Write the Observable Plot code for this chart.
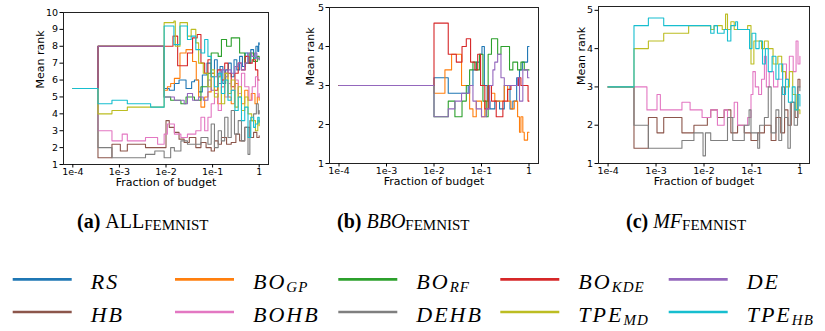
<!DOCTYPE html>
<html><head><meta charset="utf-8">
<script src="https://cdn.jsdelivr.net/npm/d3@7"></script>
<script src="https://cdn.jsdelivr.net/npm/@observablehq/plot@0.6"></script>
<style>
html,body{margin:0;padding:0;background:#fff;}
#root{position:relative;width:825px;height:331px;overflow:hidden;background:#fff;}
#root > svg{position:absolute;top:0;}
.serif text, .serif tspan{font-family:"Liberation Serif","DejaVu Serif","Times New Roman",serif;}
</style></head><body><div id="root"></div>
<script>
const methods = ["RS","BO_GP","BO_RF","BO_KDE","DE","HB","BOHB","DEHB","TPE_MD","TPE_HB"];
const colors = ["#1f77b4","#ff7f0e","#2ca02c","#d62728","#9467bd","#8c564b","#e377c2","#7f7f7f","#bcbd22","#17becf"];
const xTicks = [1e-4,1e-3,1e-2,1e-1,1];
const xTickLabels = ["1e-4","1e-3","1e-2","1e-1","1"];
const legendMain = ["RS","BO","BO","BO","DE","HB","BOHB","DEHB","TPE","TPE"];
const legendSub = ["","GP","RF","KDE","","","","","MD","HB"];
const captionTag = ["(a)","(b)","(c)"];
const captionName = ["ALL","BBO","MF"];
const captionSub = ["FEMNIST","FEMNIST","FEMNIST"];

// each series: [log10(fraction of budget), mean rank], drawn as steps
// (a) ALL
const all_RS = [[-4,5.5],[-3.46,8],[-2.04,5.5],[-1.93,5.4],[-1.82,5.8],[-1.72,6.0],[-1.57,5.5],[-1.45,5.9],[-1.39,6.0],[-1.30,5.3],[-1.22,6.3],[-1.12,7.0],[-1.03,6.4],[-0.96,7.2],[-0.90,6.2],[-0.84,6.8],[-0.78,5.8],[-0.72,6.6],[-0.66,7.0],[-0.60,6.2],[-0.54,7.2],[-0.48,6.6],[-0.42,7.4],[-0.36,6.8],[-0.30,7.6],[-0.24,7.0],[-0.18,7.8],[-0.12,7.3],[-0.07,8.0],[-0.03,7.7],[-0.01,8.2],[0,8.1]];
const all_BOGP = [[-4,5.5],[-3.46,8],[-2.04,5.4],[-1.97,5.6],[-1.90,5.8],[-1.82,6.1],[-1.70,7.6],[-1.57,7.8],[-1.43,7.1],[-1.35,6.0],[-1.30,5.0],[-1.25,4.4],[-1.17,5.0],[-1.10,5.3],[-1.03,6.4],[-0.96,5.2],[-0.89,4.6],[-0.81,5.6],[-0.74,6.4],[-0.67,5.0],[-0.60,4.6],[-0.53,5.8],[-0.45,5.0],[-0.38,4.6],[-0.31,5.4],[-0.24,4.8],[-0.17,5.2],[-0.09,4.6],[-0.04,5.0],[0,4.8]];
const all_BORF = [[-4,5.5],[-3.46,8],[-2.04,5.0],[-1.90,4.8],[-1.68,4.6],[-1.57,5.0],[-1.39,4.8],[-1.25,5.6],[-1.10,6.4],[-1.03,7.6],[-0.88,7.4],[-0.81,8.4],[-0.70,8.0],[-0.60,8.5],[-0.42,7.6],[-0.31,7.0],[-0.20,7.6],[-0.12,7.1],[-0.04,7.4],[0,7.2]];
const all_BOKDE = [[-4,5.5],[-3.46,8],[-1.85,8.6],[-1.75,6.85],[-1.54,7.6],[-1.43,8.5],[-1.33,8.7],[-1.25,7.0],[-1.17,6.4],[-1.10,7.2],[-1.03,6.2],[-0.96,5.4],[-0.89,6.6],[-0.81,6.0],[-0.74,7.0],[-0.67,6.4],[-0.60,5.6],[-0.52,6.4],[-0.45,7.0],[-0.38,6.6],[-0.30,7.4],[-0.22,7.0],[-0.15,7.2],[-0.08,6.6],[-0.03,6.0],[0,6.0]];
const all_DE = [[-4,5.5],[-3.46,8],[-2.04,5.0],[-1.82,4.8],[-1.61,4.6],[-1.54,5.2],[-1.43,4.8],[-1.30,5.0],[-1.20,4.8],[-1.10,6.0],[-1.03,5.4],[-0.96,6.2],[-0.88,5.8],[-0.81,6.6],[-0.74,6.2],[-0.67,6.6],[-0.60,6.4],[-0.52,6.8],[-0.45,7.0],[-0.38,6.6],[-0.31,7.0],[-0.24,7.6],[-0.16,7.4],[-0.10,7.6],[-0.05,7.3],[0,7.2]];
const all_HB = [[-4,5.5],[-3.46,1.4],[-3.16,2.2],[-2.98,1.8],[-2.83,2.2],[-2.44,2.0],[-2.00,3.6],[-1.93,3.2],[-1.82,2.9],[-1.72,2.5],[-1.61,2.3],[-1.50,2.6],[-1.36,2.0],[-1.25,2.3],[-1.14,2.0],[-1.03,1.8],[-0.96,2.4],[-0.88,2.2],[-0.81,2.6],[-0.70,2.2],[-0.60,2.3],[-0.50,2.8],[-0.42,2.4],[-0.31,3.2],[-0.20,2.6],[-0.12,2.9],[-0.05,2.6],[0,2.7]];
const all_BOHB = [[-4,5.5],[-3.46,3.0],[-3.16,2.4],[-2.94,2.8],[-2.83,2.4],[-2.44,2.6],[-2.18,2.2],[-2.04,2.8],[-1.97,3.4],[-1.82,2.8],[-1.68,2.6],[-1.54,2.8],[-1.36,3.0],[-1.25,3.8],[-1.17,3.0],[-1.10,3.8],[-1.03,4.6],[-0.96,5.2],[-0.88,4.2],[-0.81,5.6],[-0.74,5.0],[-0.67,5.8],[-0.60,5.4],[-0.52,6.0],[-0.45,5.2],[-0.38,6.4],[-0.31,5.6],[-0.22,4.8],[-0.15,5.6],[-0.08,6.2],[-0.03,5.0],[0,5.2]];
const all_DEHB = [[-4,5.5],[-3.46,2.0],[-3.16,1.4],[-2.44,1.6],[-2.24,1.8],[-2.04,1.4],[-1.90,2.0],[-1.82,1.8],[-1.68,2.4],[-1.54,2.2],[-1.25,2.6],[-1.10,2.2],[-1.03,3.4],[-0.96,2.0],[-0.88,3.0],[-0.81,2.4],[-0.74,3.8],[-0.67,2.6],[-0.60,4.2],[-0.53,2.8],[-0.45,3.6],[-0.38,2.4],[-0.31,3.2],[-0.24,1.6],[-0.20,3.6],[-0.12,4.0],[-0.06,4.6],[-0.02,4.0],[0,4.2]];
const all_TPEMD = [[-4,5.5],[-3.46,4.0],[-3.16,4.2],[-2.83,4.4],[-2.04,9.4],[-1.83,9.5],[-1.80,8.0],[-1.70,9.4],[-1.54,8.6],[-1.46,9.0],[-1.36,8.2],[-1.30,7.0],[-1.20,6.4],[-1.10,5.6],[-1.03,6.6],[-0.96,5.0],[-0.88,6.2],[-0.81,4.6],[-0.74,6.4],[-0.67,5.2],[-0.60,6.0],[-0.52,4.4],[-0.45,5.6],[-0.38,4.2],[-0.31,5.0],[-0.24,4.0],[-0.16,3.6],[-0.08,3.0],[-0.03,3.6],[0,3.3]];
const all_TPEHB = [[-4,5.5],[-3.46,4.6],[-3.16,4.8],[-2.83,4.6],[-2.33,4.4],[-2.04,9.2],[-1.83,8.1],[-1.70,9.2],[-1.54,8.4],[-1.46,8.6],[-1.36,7.8],[-1.25,7.6],[-1.17,8.4],[-1.10,7.4],[-1.03,6.2],[-0.96,5.6],[-0.88,6.4],[-0.81,5.2],[-0.74,6.0],[-0.67,4.8],[-0.60,5.4],[-0.52,4.2],[-0.45,5.0],[-0.38,3.6],[-0.31,4.4],[-0.24,2.6],[-0.18,3.8],[-0.12,3.2],[-0.08,3.4],[-0.03,3.8],[0,3.5]];
// (b) BBO
const bbo_RS = [[-4,3],[-2.0,3.2],[-1.70,2.8],[-1.28,3.0],[-1.18,3.4],[-1.11,3.6],[-1.04,3.8],[-0.99,4.0],[-0.94,3.0],[-0.88,2.6],[-0.82,2.4],[-0.72,2.6],[-0.62,2.4],[-0.52,3.0],[-0.40,2.4],[-0.34,2.6],[-0.26,3.2],[-0.20,3.4],[-0.14,3.6],[-0.03,4.0],[0,4.0]];
const bbo_BOGP = [[-4,3],[-2.0,2.8],[-1.77,3.4],[-1.63,3.8],[-1.42,3.0],[-1.25,2.4],[-1.18,2.2],[-1.11,2.6],[-1.0,2.2],[-0.93,2.6],[-0.86,3.0],[-0.79,2.8],[-0.72,2.6],[-0.52,3.0],[-0.45,2.6],[-0.38,2.4],[-0.31,2.6],[-0.24,2.2],[-0.20,1.8],[-0.17,2.2],[-0.13,1.8],[-0.10,1.6],[-0.03,1.8],[0,1.8]];
const bbo_BORF = [[-4,3],[-2.0,2.2],[-1.70,2.6],[-1.56,2.2],[-1.41,2.6],[-1.32,3.0],[-1.25,3.4],[-1.18,3.6],[-1.11,3.4],[-1.04,3.8],[-0.97,2.6],[-0.90,2.2],[-0.86,3.8],[-0.79,4.2],[-0.66,3.8],[-0.59,4.0],[-0.41,3.4],[-0.34,3.6],[-0.24,3.4],[-0.17,3.6],[-0.10,3.4],[0,3.4]];
const bbo_BOKDE = [[-4,3],[-2.0,4.6],[-1.70,3.8],[-1.53,3.6],[-1.41,4.0],[-1.32,4.2],[-1.23,3.6],[-1.14,3.4],[-1.08,3.8],[-1.02,3.0],[-0.93,2.4],[-0.86,3.0],[-0.79,2.6],[-0.69,2.2],[-0.55,2.6],[-0.45,2.9],[-0.38,3.0],[-0.22,3.2],[-0.17,3.0],[-0.02,2.6],[0,2.6]];
const bbo_DE = [[-4,3],[-2.0,2.2],[-1.70,2.4],[-1.56,2.6],[-1.42,2.8],[-1.25,3.0],[-1.18,2.6],[-1.11,2.4],[-1.0,2.2],[-0.90,2.4],[-0.83,3.0],[-0.76,3.4],[-0.72,3.6],[-0.66,3.8],[-0.59,3.2],[-0.52,3.0],[-0.31,3.0],[-0.24,3.2],[-0.20,2.6],[-0.13,3.4],[-0.03,3.2],[0,3.2]];
// (c) MF
const mf_HB = [[-4,3],[-3.46,1.4],[-3.16,2.2],[-2.98,1.8],[-2.84,2.2],[-2.46,1.8],[-2.21,2.0],[-1.93,2.2],[-1.86,2.4],[-1.72,2.2],[-1.58,2.4],[-1.44,1.8],[-1.30,2.0],[-1.16,1.8],[-1.02,1.6],[-0.88,1.8],[-0.74,2.0],[-0.60,1.6],[-0.50,2.2],[-0.40,1.8],[-0.32,2.4],[-0.25,2.0],[-0.18,2.6],[-0.10,2.2],[-0.04,3.2],[0,3.0]];
const mf_BOHB = [[-4,3],[-3.46,3.0],[-3.19,2.4],[-2.98,2.8],[-2.91,2.4],[-2.46,2.6],[-2.29,2.4],[-2.04,2.2],[-1.86,2.4],[-1.72,2.0],[-1.58,2.4],[-1.51,2.2],[-1.37,2.6],[-1.30,2.0],[-1.09,2.2],[-1.02,2.8],[-0.98,3.4],[-0.93,3.0],[-0.86,2.8],[-0.80,3.2],[-0.74,3.8],[-0.70,3.0],[-0.64,3.4],[-0.55,3.0],[-0.46,3.2],[-0.36,3.6],[-0.28,3.2],[-0.22,3.8],[-0.14,3.4],[-0.08,4.2],[-0.04,3.6],[0,3.8]];
const mf_DEHB = [[-4,3],[-3.46,2.0],[-3.16,1.4],[-2.46,1.6],[-2.21,1.8],[-2.02,1.2],[-1.97,1.8],[-1.86,1.6],[-1.51,2.2],[-1.40,1.6],[-1.16,2.0],[-1.06,2.4],[-1.02,1.8],[-0.88,1.4],[-0.84,2.0],[-0.74,2.2],[-0.66,3.0],[-0.60,1.8],[-0.50,2.4],[-0.44,1.6],[-0.38,3.0],[-0.32,2.2],[-0.25,1.4],[-0.20,2.6],[-0.12,2.0],[-0.05,3.0],[0,2.9]];
const mf_TPEMD = [[-4,3],[-3.46,4.0],[-3.16,4.2],[-2.84,4.4],[-2.32,4.6],[-1.86,4.5],[-1.79,4.6],[-1.62,4.5],[-1.55,4.9],[-1.51,4.5],[-1.44,4.7],[-1.37,4.5],[-1.09,4.6],[-1.02,3.6],[-0.96,4.2],[-0.80,4.0],[-0.74,4.2],[-0.66,4.0],[-0.56,3.6],[-0.46,3.8],[-0.38,3.4],[-0.30,3.0],[-0.22,3.4],[-0.15,2.8],[-0.08,2.4],[0,2.3]];
const mf_TPEHB = [[-4,3],[-3.46,4.6],[-3.16,4.8],[-2.84,4.6],[-1.86,4.4],[-1.79,4.6],[-1.72,4.4],[-1.58,4.5],[-1.51,4.2],[-1.44,4.6],[-1.34,4.7],[-1.30,4.5],[-1.09,4.5],[-1.05,4.0],[-1.00,4.4],[-0.92,4.0],[-0.85,4.2],[-0.78,3.6],[-0.72,4.0],[-0.66,3.4],[-0.58,3.8],[-0.50,3.2],[-0.44,3.6],[-0.36,2.8],[-0.30,3.2],[-0.24,2.6],[-0.16,3.0],[-0.10,2.4],[-0.04,2.8],[0,2.5]];

const root = document.getElementById("root");
const xLabelOf = d => xTickLabels[xTicks.findIndex(t => Math.abs(Math.log10(t) - Math.log10(d)) < 1e-6)];

function panel({names, series, yDomain, yTicks, left, margins, yLabelDx}) {
  const rows = [];
  names.forEach((m, i) => series[i].forEach(([e, r]) => rows.push({method: m, budget: Math.pow(10, e), rank: r})));
  const svg = Plot.plot({
    width: 275, height: 200, ...margins,
    style: {fontFamily: "DejaVu Sans", fontSize: "9.5px", color: "#000", background: "transparent", overflow: "visible"},
    x: {type: "log", domain: [Math.pow(10, -4.2), Math.pow(10, 0.2)]},
    y: {domain: yDomain},
    color: {domain: methods, range: colors},
    marks: [
      Plot.line(rows, {x: "budget", y: "rank", z: "method", stroke: "method", curve: "step-after", strokeWidth: 1.1}),
      Plot.frame({stroke: "#222", strokeWidth: 1}),
      Plot.axisX({ticks: xTicks, tickFormat: xLabelOf, tickSize: 3.5, tickPadding: 0, label: null}),
      Plot.axisY({ticks: yTicks, tickFormat: d3.format("d"), tickSize: 3.5, tickPadding: 2, label: null}),
      Plot.text(["Fraction of budget"], {text: d => d, frameAnchor: "bottom", dy: 21.5, fontSize: 11}),
      Plot.text(["Mean rank"], {text: d => d, frameAnchor: "left", rotate: -90, dx: yLabelDx, fontSize: 11})
    ]
  });
  svg.style.left = left + "px";
  root.appendChild(svg);
}

panel({names: methods, series: [all_RS, all_BOGP, all_BORF, all_BOKDE, all_DE, all_HB, all_BOHB, all_DEHB, all_TPEMD, all_TPEHB],
  yDomain: [1, 10], yTicks: d3.range(1, 11), left: 0,
  margins: {marginLeft: 63, marginRight: 7, marginTop: 12, marginBottom: 36}, yLabelDx: -23});
panel({names: methods.slice(0, 5), series: [bbo_RS, bbo_BOGP, bbo_BORF, bbo_BOKDE, bbo_DE],
  yDomain: [1, 5], yTicks: d3.range(1, 6), left: 275,
  margins: {marginLeft: 54, marginRight: 12, marginTop: 7, marginBottom: 37}, yLabelDx: -19});
panel({names: methods.slice(5), series: [mf_HB, mf_BOHB, mf_DEHB, mf_TPEMD, mf_TPEHB],
  yDomain: [1, 5.1], yTicks: d3.range(1, 6), left: 550,
  margins: {marginLeft: 48, marginRight: 16, marginTop: 6, marginBottom: 37}, yLabelDx: -17});

// captions and legend
const over = d3.create("svg").attr("class", "serif").attr("width", 825).attr("height", 331).style("left", "0px");
const capX = [77, 337, 626];
captionTag.forEach((t, i) => {
  const tx = over.append("text").attr("x", capX[i]).attr("y", 228).attr("font-size", 20);
  tx.append("tspan").attr("font-weight", "bold").text(t + " ");
  tx.append("tspan").attr("font-style", i === 0 ? "normal" : "italic").text(captionName[i]);
  tx.append("tspan").attr("font-size", 15).attr("dy", 2).text(captionSub[i]);
});
const colX = [12.7, 175, 338.3, 500.3, 668.7];
methods.forEach((m, i) => {
  const row = i < 5 ? 0 : 1, col = i % 5;
  const ly = row === 0 ? 279.3 : 312;
  over.append("line").attr("x1", colX[col]).attr("x2", colX[col] + 59).attr("y1", ly).attr("y2", ly)
    .attr("stroke", colors[i]).attr("stroke-width", 2.7);
  const tx = over.append("text").attr("x", colX[col] + 78).attr("y", ly + 10).attr("font-size", 22)
    .attr("font-style", "italic").attr("letter-spacing", 2);
  tx.append("tspan").text(legendMain[i]);
  if (legendSub[i]) tx.append("tspan").attr("font-size", 15).attr("dy", 3).attr("letter-spacing", 1).text(legendSub[i]);
});
root.appendChild(over.node());
</script></body></html>
